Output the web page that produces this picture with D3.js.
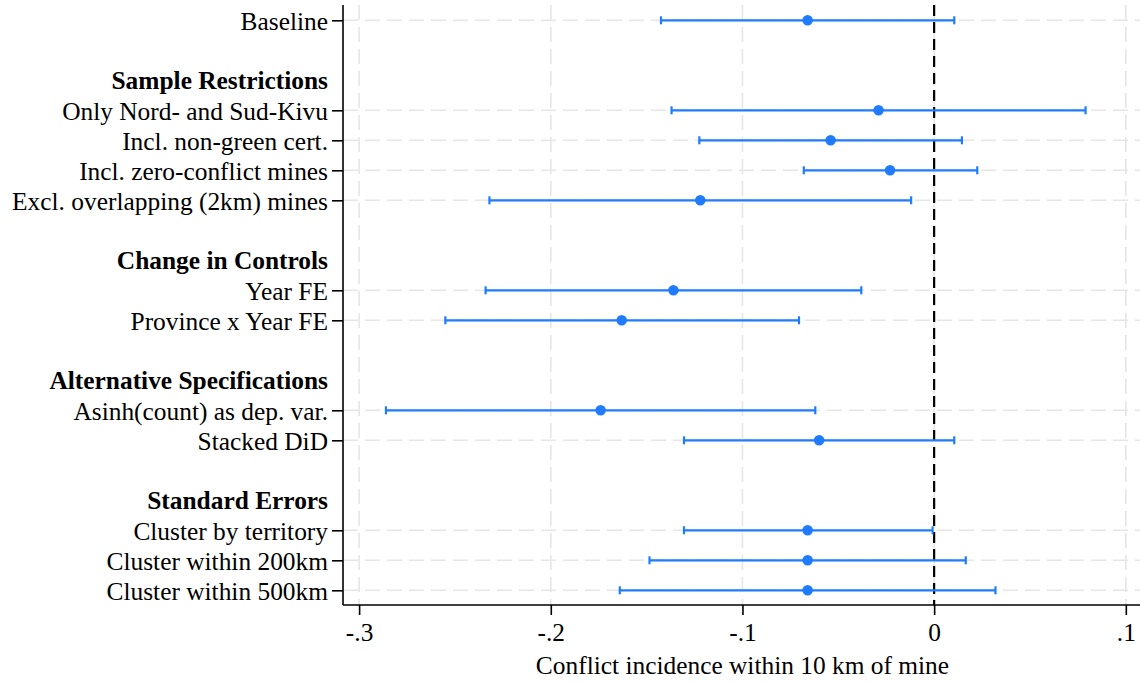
<!DOCTYPE html>
<html>
<head>
<meta charset="utf-8">
<script src="https://cdn.jsdelivr.net/npm/d3@7/dist/d3.min.js"></script>
<style>
  html, body { margin: 0; padding: 0; background: #fff; }
  svg { display: block; }
  text { font-family: "Liberation Serif", "Times New Roman", serif; fill: #000; }
</style>
</head>
<body>
<svg id="chart" width="1140" height="683"></svg>
<script>
// Robustness checks: point estimates with 95% confidence intervals
const groupNames = ["Sample Restrictions", "Change in Controls", "Alternative Specifications", "Standard Errors"];

const modelLabels = [
  "Baseline",
  "Only Nord- and Sud-Kivu",
  "Incl. non-green cert.",
  "Incl. zero-conflict mines",
  "Excl. overlapping (2km) mines",
  "Year FE",
  "Province x Year FE",
  "Asinh(count) as dep. var.",
  "Stacked DiD",
  "Cluster by territory",
  "Cluster within 200km",
  "Cluster within 500km"
];

// index into groupNames; -1 = no group heading
const modelGroup = [-1, 0, 0, 0, 0, 1, 1, 2, 2, 3, 3, 3];

const estimate = [-0.066, -0.029, -0.054, -0.023, -0.122, -0.136, -0.163, -0.174, -0.060, -0.066, -0.066, -0.066];
const ciLow    = [-0.1425, -0.137, -0.1225, -0.068, -0.232, -0.234, -0.255, -0.286, -0.1305, -0.1305, -0.1485, -0.164];
const ciHigh   = [0.0105, 0.079, 0.0145, 0.0225, -0.012, -0.038, -0.0705, -0.062, 0.0105, -0.0008, 0.0165, 0.032];

const xTickValues = [-0.3, -0.2, -0.1, 0, 0.1];
const xTickLabels = ["-.3", "-.2", "-.1", "0", ".1"];
const xTitle = "Conflict incidence within 10 km of mine";

// Lay out rows: a blank spacer and a bold heading before each new group
const rows = [];
let lastGroup = -1;
modelLabels.forEach((label, i) => {
  const g = modelGroup[i];
  if (g !== lastGroup && g >= 0) {
    rows.push({ type: "blank" });
    rows.push({ type: "header", label: groupNames[g] });
    lastGroup = g;
  }
  rows.push({ type: "model", label, est: estimate[i], lo: ciLow[i], hi: ciHigh[i] });
});
rows.forEach((r, i) => r.pos = i);
const modelRows = rows.filter(r => r.type === "model");
const headerRows = rows.filter(r => r.type === "header");

const plot = { left: 343, right: 1140, top: 5, bottom: 605 };
const blue = "#1f7bff";
const fontSize = 25.4;

const svg = d3.select("#chart");

const x = d3.scaleLinear().domain([-0.3084, 0.1074]).range([plot.left, plot.right]);
const y = d3.scaleLinear().domain([-0.51, rows.length - 0.51]).range([plot.top, plot.bottom]);

// Gridlines
const grid = svg.append("g")
  .attr("stroke", "#e6e6e6")
  .attr("stroke-width", 1.6)
  .attr("stroke-dasharray", "15,7")
  .attr("fill", "none");

grid.selectAll("line.v")
  .data(xTickValues)
  .join("line")
  .attr("class", "v")
  .attr("x1", d => x(d)).attr("x2", d => x(d))
  .attr("y1", plot.top).attr("y2", plot.bottom);

grid.selectAll("line.h")
  .data(modelRows)
  .join("line")
  .attr("class", "h")
  .attr("x1", plot.left).attr("x2", plot.right)
  .attr("y1", d => y(d.pos)).attr("y2", d => y(d.pos));

// Reference line at zero
svg.append("line")
  .attr("x1", x(0)).attr("x2", x(0))
  .attr("y1", plot.top).attr("y2", plot.bottom)
  .attr("stroke", "#000")
  .attr("stroke-width", 2.2)
  .attr("stroke-dasharray", "11,6");

// Confidence intervals
const ci = svg.append("g").attr("stroke", blue).attr("stroke-width", 2.2);
ci.selectAll("line.ci")
  .data(modelRows)
  .join("line")
  .attr("class", "ci")
  .attr("x1", d => x(d.lo)).attr("x2", d => x(d.hi))
  .attr("y1", d => y(d.pos)).attr("y2", d => y(d.pos));

const capHalf = 4;
ci.selectAll("line.capLo")
  .data(modelRows)
  .join("line")
  .attr("class", "capLo")
  .attr("x1", d => x(d.lo)).attr("x2", d => x(d.lo))
  .attr("y1", d => y(d.pos) - capHalf).attr("y2", d => y(d.pos) + capHalf);
ci.selectAll("line.capHi")
  .data(modelRows)
  .join("line")
  .attr("class", "capHi")
  .attr("x1", d => x(d.hi)).attr("x2", d => x(d.hi))
  .attr("y1", d => y(d.pos) - capHalf).attr("y2", d => y(d.pos) + capHalf);

// Point estimates
svg.append("g").selectAll("circle")
  .data(modelRows)
  .join("circle")
  .attr("cx", d => x(d.est))
  .attr("cy", d => y(d.pos))
  .attr("r", 5.3)
  .attr("fill", blue);

// Y axis with model labels
const yAxis = d3.axisLeft(y)
  .tickValues(modelRows.map(d => d.pos))
  .tickFormat(p => rows[p].label)
  .tickSize(11)
  .tickPadding(4)
  .tickSizeOuter(0);

const gy = svg.append("g")
  .attr("transform", `translate(${plot.left},0)`)
  .call(yAxis);
gy.select(".domain").attr("stroke", "#000").attr("stroke-width", 1.6)
  .attr("d", `M0,${plot.top}V${plot.bottom}`);
gy.selectAll(".tick line").attr("stroke", "#000").attr("stroke-width", 1.6);
gy.selectAll(".tick text")
  .attr("font-family", "Liberation Serif, Times New Roman, serif")
  .attr("font-size", fontSize)
  .attr("dy", "0.36em");

// Group headings
svg.append("g").selectAll("text")
  .data(headerRows)
  .join("text")
  .attr("x", plot.left - 15)
  .attr("y", d => y(d.pos))
  .attr("dy", "0.36em")
  .attr("text-anchor", "end")
  .attr("font-size", fontSize)
  .attr("font-weight", "bold")
  .text(d => d.label);

// X axis
const xAxis = d3.axisBottom(x)
  .tickValues(xTickValues)
  .tickFormat((d, i) => xTickLabels[i])
  .tickSize(10)
  .tickPadding(8)
  .tickSizeOuter(0);

const gx = svg.append("g")
  .attr("transform", `translate(0,${plot.bottom})`)
  .call(xAxis);
gx.select(".domain").attr("stroke", "#000").attr("stroke-width", 1.6)
  .attr("d", `M${plot.left},0H${plot.right}`);
gx.selectAll(".tick line").attr("stroke", "#000").attr("stroke-width", 1.6);
gx.selectAll(".tick text")
  .attr("font-family", "Liberation Serif, Times New Roman, serif")
  .attr("font-size", fontSize);

// X axis title, centred on the tick range
svg.append("text")
  .attr("x", (x(xTickValues[0]) + x(xTickValues[xTickValues.length - 1])) / 2)
  .attr("y", 674)
  .attr("text-anchor", "middle")
  .attr("font-size", fontSize)
  .text(xTitle);
</script>
</body>
</html>
